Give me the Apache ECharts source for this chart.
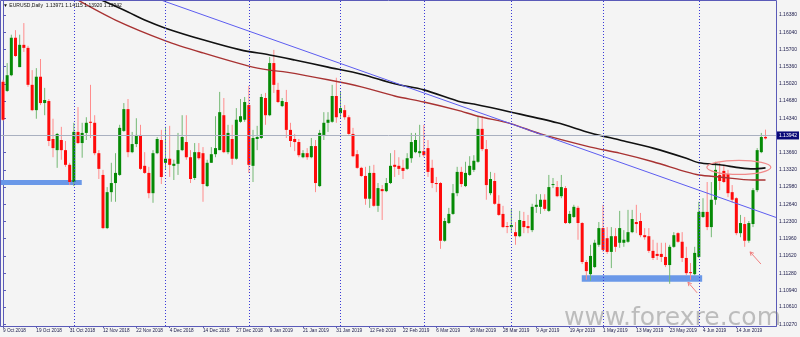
<!DOCTYPE html>
<html><head><meta charset="utf-8">
<script src="https://cdn.jsdelivr.net/npm/echarts@6/dist/echarts.min.js"></script>
<style>html,body{margin:0;padding:0;background:#f4f4f4}#c{width:800px;height:337px}</style>
</head><body><div id="c"></div>
<script>
// ---- data (EURUSD daily) ----
const tickBars = [0,8,16,24,32,40,48,56,64,72,80,88,96,104,112,120,128,136,144,152,160,168,176];
const tickLabels = ['9 Oct 2018','19 Oct 2018','31 Oct 2018','12 Nov 2018','22 Nov 2018','4 Dec 2018','14 Dec 2018','27 Dec 2018','9 Jan 2019','21 Jan 2019','31 Jan 2019','12 Feb 2019','22 Feb 2019','6 Mar 2019','18 Mar 2019','28 Mar 2019','9 Apr 2019','19 Apr 2019','1 May 2019','13 May 2019','23 May 2019','4 Jun 2019','14 Jun 2019'];
const yTicks = [1.16380,1.16040,1.15700,1.15360,1.15020,1.14680,1.14340,1.13660,1.13320,1.12980,1.12640,1.12300,1.11960,1.11620,1.11280,1.10940,1.10610,1.10270];

const opens = [1.1506,1.1488,1.1519,1.1593,1.1535,1.1579,1.1573,1.1500,1.1450,1.1516,1.1464,1.1468,1.1393,1.1371,1.1391,1.1371,1.1342,1.1308,1.1407,1.1385,
1.1405,1.1427,1.1425,1.1365,1.1322,1.1217,1.1288,1.1306,1.1322,1.1409,1.1452,1.1367,1.1383,1.1401,1.1340,1.1326,1.1286,1.1365,1.1391,1.1346,
1.1354,1.1340,1.1344,1.1371,1.1387,1.1357,1.1316,1.1367,1.1365,1.1300,1.1346,1.1363,1.1371,1.1440,1.1367,1.1393,1.1354,1.1427,1.1431,1.1460,
1.1340,1.1393,1.1395,1.1474,1.1440,1.1543,1.1490,1.1458,1.1466,1.1411,1.1393,1.1387,1.1357,1.1365,1.1357,1.1379,1.1300,1.1401,1.1425,1.1427,
1.1478,1.1444,1.1450,1.1436,1.1403,1.1363,1.1336,1.1320,1.1275,1.1326,1.1261,1.1294,1.1290,1.1306,1.1342,1.1340,1.1336,1.1334,1.1355,1.1367,
1.1365,1.1369,1.1375,1.1336,1.1306,1.1306,1.1192,1.1227,1.1245,1.1286,1.1328,1.1300,1.1322,1.1332,1.1348,1.1413,1.1373,1.1286,1.1310,1.1265,
1.1245,1.1221,1.1219,1.1209,1.1201,1.1231,1.1221,1.1213,1.1259,1.1259,1.1273,1.1251,1.1302,1.1298,1.1280,1.1296,1.1227,1.1239,1.1257,1.1227,
1.1150,1.1126,1.1140,1.1184,1.1217,1.1197,1.1170,1.1201,1.1188,1.1188,1.1190,1.1209,1.1229,1.1231,1.1203,1.1201,1.1172,1.1166,1.1166,1.1160,
1.1144,1.1180,1.1207,1.1190,1.1158,1.1130,1.1126,1.1160,1.1239,1.1249,1.1219,1.1273,1.1322,1.1330,1.1324,1.1288,1.1276,1.1207,1.1225,1.1192,
1.1225,1.1292,1.1367,1.13971];
const highs = [1.1510,1.1543,1.1599,1.1608,1.1599,1.1622,1.1577,1.1529,1.1533,1.1551,1.1494,1.1472,1.1433,1.1405,1.1417,1.1389,1.1346,1.1425,1.1456,1.1425,
1.1436,1.1500,1.1440,1.1371,1.1332,1.1298,1.1346,1.1365,1.1421,1.1464,1.1472,1.1407,1.1434,1.1421,1.1367,1.1338,1.1371,1.1397,1.1411,1.1417,
1.1419,1.1352,1.1405,1.1440,1.1440,1.1371,1.1385,1.1385,1.1377,1.1352,1.1377,1.1438,1.1486,1.1474,1.1421,1.1421,1.1454,1.1472,1.1476,1.1498,
1.1411,1.1419,1.1482,1.1484,1.1555,1.1569,1.1504,1.1474,1.1490,1.1425,1.1403,1.1393,1.1371,1.1375,1.1395,1.1391,1.1411,1.1446,1.1446,1.1500,
1.1514,1.1486,1.1460,1.1440,1.1415,1.1371,1.1338,1.1338,1.1340,1.1342,1.1306,1.1302,1.1316,1.1365,1.1371,1.1357,1.1352,1.1365,1.1405,1.1405,
1.1421,1.1421,1.1391,1.1352,1.1318,1.1308,1.1237,1.1257,1.1304,1.1338,1.1338,1.1348,1.1359,1.1361,1.1438,1.1438,1.1391,1.1328,1.1326,1.1282,
1.1261,1.1229,1.1255,1.1229,1.1251,1.1249,1.1243,1.1265,1.1284,1.1284,1.1284,1.1322,1.1316,1.1310,1.1322,1.1300,1.1251,1.1263,1.1261,1.1229,
1.1154,1.1184,1.1194,1.1229,1.1263,1.1219,1.1219,1.1217,1.1251,1.1213,1.1253,1.1253,1.1263,1.1247,1.1217,1.1217,1.1194,1.1188,1.1188,1.1188,
1.1184,1.1209,1.1209,1.1209,1.1180,1.1148,1.1180,1.1269,1.1276,1.1308,1.1308,1.1348,1.1346,1.1342,1.1332,1.1302,1.1278,1.1243,1.1239,1.1231,
1.1296,1.1375,1.1405,1.14115];
const lows = [1.1429,1.1486,1.1517,1.1555,1.1535,1.1565,1.1496,1.1448,1.1433,1.1460,1.1440,1.1379,1.1357,1.1336,1.1352,1.1338,1.1302,1.1300,1.1383,1.1356,
1.1391,1.1395,1.1361,1.1314,1.1215,1.1215,1.1269,1.1269,1.1320,1.1407,1.1357,1.1365,1.1377,1.1332,1.1324,1.1276,1.1267,1.1363,1.1304,1.1332,
1.1318,1.1312,1.1322,1.1369,1.1352,1.1306,1.1312,1.1352,1.1269,1.1298,1.1346,1.1357,1.1371,1.1365,1.1363,1.1342,1.1352,1.1425,1.1427,1.1326,
1.1308,1.1371,1.1393,1.1421,1.1438,1.1484,1.1464,1.1456,1.1395,1.1377,1.1369,1.1357,1.1355,1.1352,1.1355,1.1288,1.1298,1.1391,1.1407,1.1425,
1.1425,1.1434,1.1431,1.1401,1.1357,1.1334,1.1318,1.1263,1.1257,1.1259,1.1249,1.1233,1.1288,1.1304,1.1318,1.1322,1.1314,1.1332,1.1346,1.1365,
1.1357,1.1357,1.1318,1.1296,1.1288,1.1176,1.1190,1.1225,1.1243,1.1280,1.1298,1.1298,1.1320,1.1328,1.1346,1.1369,1.1273,1.1282,1.1263,1.1241,
1.1217,1.1207,1.1209,1.1184,1.1199,1.1207,1.1207,1.1209,1.1247,1.1245,1.1251,1.1249,1.1296,1.1278,1.1276,1.1225,1.1225,1.1237,1.1194,1.1146,
1.1115,1.1113,1.1138,1.1180,1.1170,1.1166,1.1138,1.1170,1.1178,1.1180,1.1188,1.1207,1.1207,1.1199,1.1194,1.1168,1.1154,1.1154,1.1150,1.1140,
1.1107,1.1178,1.1188,1.1150,1.1124,1.1115,1.1124,1.1158,1.1237,1.1213,1.1199,1.1263,1.1292,1.1306,1.1278,1.1267,1.1203,1.1199,1.1180,1.1188,
1.1219,1.1288,1.1365,1.13920];
const closes = [1.1431,1.1519,1.1593,1.1557,1.1579,1.1573,1.1500,1.1450,1.1516,1.1464,1.1470,1.1389,1.1375,1.1403,1.1371,1.1342,1.1308,1.1407,1.1385,1.1405,
1.1425,1.1425,1.1365,1.1334,1.1217,1.1288,1.1306,1.1326,1.1415,1.1452,1.1367,1.1383,1.1401,1.1334,1.1326,1.1286,1.1365,1.1393,1.1318,1.1354,
1.1342,1.1344,1.1371,1.1397,1.1357,1.1314,1.1367,1.1355,1.1304,1.1346,1.1363,1.1375,1.1446,1.1367,1.1405,1.1354,1.1431,1.1438,1.1466,1.1342,
1.1395,1.1397,1.1476,1.1440,1.1543,1.1500,1.1466,1.1468,1.1411,1.1389,1.1387,1.1361,1.1365,1.1357,1.1379,1.1306,1.1405,1.1425,1.1431,1.1478,
1.1436,1.1454,1.1436,1.1403,1.1359,1.1336,1.1320,1.1275,1.1326,1.1261,1.1296,1.1290,1.1306,1.1340,1.1338,1.1334,1.1330,1.1355,1.1387,1.1391,
1.1369,1.1361,1.1328,1.1306,1.1304,1.1192,1.1231,1.1245,1.1286,1.1328,1.1304,1.1326,1.1340,1.1350,1.1413,1.1373,1.1302,1.1314,1.1265,1.1243,
1.1219,1.1219,1.1223,1.1201,1.1233,1.1219,1.1217,1.1259,1.1263,1.1273,1.1255,1.1298,1.1304,1.1280,1.1298,1.1227,1.1245,1.1259,1.1227,1.1150,
1.1132,1.1162,1.1188,1.1217,1.1174,1.1170,1.1201,1.1180,1.1217,1.1194,1.1209,1.1235,1.1225,1.1203,1.1199,1.1172,1.1158,1.1162,1.1160,1.1144,
1.1180,1.1203,1.1190,1.1158,1.1128,1.1128,1.1168,1.1249,1.1249,1.1219,1.1273,1.1332,1.1310,1.1308,1.1286,1.1273,1.1207,1.1227,1.1192,1.1227,
1.1292,1.1371,1.1397,1.13942];

// moving averages (sampled along the curves)
const slowMaBars   = [20,24,30,34,39,48,57,64,70,78,86,94,101,110,113,122,133,141,148,156,164,167,172,177,180,183];
const slowMaValues = [1.1680,1.1666,1.1644,1.1628,1.1612,1.1589,1.1569,1.1559,1.1549,1.1535,1.1521,1.1502,1.1490,1.1466,1.1462,1.1446,1.1425,1.1405,1.1391,1.1375,1.1355,1.1346,1.1342,1.1336,1.1334,1.1336];
const fastMaBars   = [17,27,39,48,59,64,68,78,86,94,101,109,114,122,129,141,148,156,164,167,172,180,183];
const fastMaValues = [1.1672,1.1628,1.1587,1.1563,1.1537,1.1529,1.1525,1.1510,1.1496,1.1478,1.1466,1.1450,1.1438,1.1423,1.1403,1.1377,1.1365,1.1348,1.1328,1.1322,1.1318,1.1312,1.1312];
const trendBars   = [30,185.5];
const trendValues = [1.16905,1.12381];
const separatorBars = [17,39,59,81,101,122,144,167];
const lastPrice = 1.13942;
const zones = [[-0.5,18.9,1.1312,1.1302],[138.9,167.8,1.1124,1.1111]];
// annotations in data space: [bar, price]
const ellipseCenter = [176.6,1.1337];
const arrows = [[[166.6,1.1089],[164.4,1.1110]],[[181.9,1.1146],[179.3,1.1170]]];

// ---- chart ----
const frame = '#5a5ab8';
const txt = '#1a1a4a';
const chart = echarts.init(document.getElementById('c'), null, {renderer:'canvas'});
const candleData = opens.map((o,i)=>[i,o,highs[i],lows[i],closes[i]]);
const pairs = (a,b)=>a.map((x,i)=>[x,b[i]]);

const option = {
  animation:false,
  backgroundColor:'#f4f4f4',
  grid:{left:0,top:1,width:776,height:325,show:false},
  xAxis:{type:'value',min:-0.5,max:185.5,splitLine:{show:false},
    axisLine:{show:true,onZero:false,lineStyle:{color:frame,width:1}},
    axisTick:{show:true,customValues:tickBars,length:2,lineStyle:{color:frame}},
    axisLabel:{customValues:tickBars,formatter:v=>tickLabels[tickBars.indexOf(v)]||'',align:'left',
      fontSize:4.7,color:txt,margin:2,fontFamily:'Liberation Sans'}},
  yAxis:{type:'value',position:'right',min:1.10236,max:1.16656,splitLine:{show:false},
    axisLine:{show:true,lineStyle:{color:frame}},
    axisTick:{show:true,customValues:yTicks,length:3,lineStyle:{color:frame}},
    axisLabel:{customValues:yTicks,formatter:v=>v.toFixed(5),fontSize:5,color:txt,margin:3,fontFamily:'Liberation Sans'}},
  graphic:[
    {id:'frame',type:'rect',shape:{x:0.5,y:0.5,width:776,height:326},style:{fill:null,stroke:frame,lineWidth:1},z:100,silent:true},
    {id:'title',type:'text',left:3,top:3,style:{text:'\u25BC EURUSD,Daily  1.13971 1.14115 1.13920 1.13942',font:'5px "Liberation Sans"',fill:'#111'},z:100},
    {id:'wm',type:'text',right:19,top:306,style:{text:'www.forexre.com',font:'25px "DejaVu Sans"',fill:'rgba(120,120,120,0.45)'},z:100,silent:true}
  ],
  series:[
    {type:'line',name:'sep',data:[],z:1,silent:true,
      markLine:{symbol:'none',silent:true,label:{show:false},
        lineStyle:{color:'#3a3ad8',type:[1,2],width:1},
        data:separatorBars.map(b=>({xAxis:b}))}},
    {type:'custom',name:'EURUSD',z:3,clip:true,
      data:candleData,encode:{x:0,y:[1,2,3,4]},
      renderItem:function(params,api){
        const i=api.value(0),o=api.value(1),h=api.value(2),l=api.value(3),c=api.value(4);
        const pO=api.coord([i,o]),pC=api.coord([i,c]),pH=api.coord([i,h]),pL=api.coord([i,l]);
        const up=c>=o, x=pO[0];
        const top=Math.min(pO[1],pC[1]), bot=Math.max(pO[1],pC[1]);
        return {type:'group',children:[
          {type:'line',shape:{x1:x,y1:pH[1],x2:x,y2:pL[1]},style:{stroke:up?'#74b874':'#ff8c8c',lineWidth:1}},
          {type:'rect',shape:{x:x-1.5,y:top,width:3,height:Math.max(bot-top,1)},style:{fill:up?'#058a05':'#ff0a0a'}}
        ]};
      }},
    {type:'line',name:'slowMA',data:pairs(slowMaBars,slowMaValues),symbol:'none',smooth:0.3,z:4,
      lineStyle:{color:'#111',width:1.6}},
    {type:'line',name:'fastMA',data:pairs(fastMaBars,fastMaValues),symbol:'none',smooth:0.3,z:4,
      lineStyle:{color:'#a83232',width:1.4}},
    {type:'line',name:'trend',data:pairs(trendBars,trendValues),symbol:'none',z:4,
      lineStyle:{color:'#5c5cf0',width:1}},
    {type:'line',name:'price',data:[],z:2,
      markLine:{symbol:'none',silent:true,lineStyle:{color:'#a9b0c0',type:'solid',width:1},
        label:{show:true,position:'end',distance:1,formatter:()=>lastPrice.toFixed(5),color:'#fff',
          backgroundColor:'#0a0a78',padding:[2,2,1,2],fontSize:5,fontFamily:'Liberation Sans'},
        data:[{yAxis:lastPrice}]}},
    {type:'line',name:'zones',data:[],z:5,
      markArea:{silent:true,itemStyle:{color:'#6a98e8',opacity:1},
        data:zones.map(zn=>[{xAxis:zn[0],yAxis:zn[2]},{xAxis:zn[1],yAxis:zn[3]}])}}
  ]
};
chart.setOption(option);

// annotations placed from data coordinates
const ec = chart.convertToPixel({gridIndex:0},ellipseCenter);
const extra = [{id:'ell',type:'ellipse',shape:{cx:ec[0],cy:ec[1],rx:32,ry:7},style:{fill:null,stroke:'#f08a8a',lineWidth:1.2},z:90}];
arrows.forEach((a,k)=>{
  const t=chart.convertToPixel({gridIndex:0},a[0]), h=chart.convertToPixel({gridIndex:0},a[1]);
  const ang=Math.atan2(t[1]-h[1],t[0]-h[0]), L=4;
  const p1=[h[0]+L*Math.cos(ang+0.5),h[1]+L*Math.sin(ang+0.5)], p2=[h[0]+L*Math.cos(ang-0.5),h[1]+L*Math.sin(ang-0.5)];
  extra.push({id:'ar'+k,type:'line',shape:{x1:t[0],y1:t[1],x2:h[0],y2:h[1]},style:{stroke:'#f08080',lineWidth:1},z:90});
  extra.push({id:'ah'+k,type:'polyline',shape:{points:[p1,h,p2]},style:{stroke:'#f08080',lineWidth:1,fill:null},z:90});
});
chart.setOption({graphic:extra});
</script></body></html>
